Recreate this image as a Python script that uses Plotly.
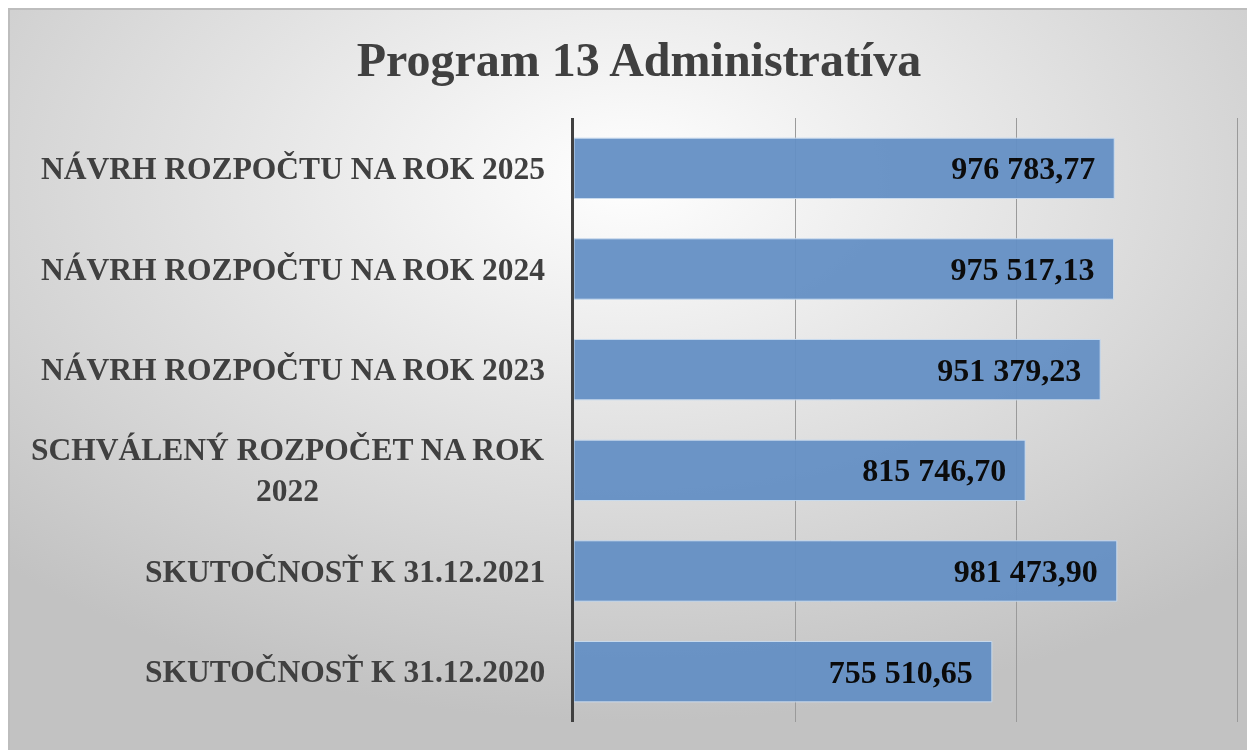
import base64
import plotly.graph_objects as go

categories = [
    "SKUTOČNOSŤ K 31.12.2020",
    "SKUTOČNOSŤ K 31.12.2021",
    "SCHVÁLENÝ ROZPOČET NA ROK<br>2022",
    "NÁVRH ROZPOČTU NA ROK 2023",
    "NÁVRH ROZPOČTU NA ROK 2024",
    "NÁVRH ROZPOČTU NA ROK 2025",
]
values = [755510.65, 981473.90, 815746.70, 951379.23, 975517.13, 976783.77]
title_text = "Program 13 Administratíva"

W, H = 1255, 750
L, T, B = 566, 110, 714
R = 1233
x_max = 1206000

svg = (
    "<svg xmlns='http://www.w3.org/2000/svg' width='1242' height='760' viewBox='0 0 1242 760' preserveAspectRatio='none'>"
    "<defs><radialGradient id='g' cx='50%' cy='22%' r='72%'>"
    "<stop offset='0' stop-color='#ffffff'/><stop offset='1' stop-color='#c2c2c2'/>"
    "</radialGradient></defs>"
    "<rect x='1' y='1' width='1240' height='758' fill='url(#g)' stroke='#bdbdbd' stroke-width='2'/></svg>"
)
src = "data:image/svg+xml;base64," + base64.b64encode(svg.encode()).decode()

pw, ph = R - L, B - T

fig = go.Figure()
fig.add_trace(go.Bar(
    y=categories, x=values, orientation="h",
    marker=dict(color="#6590c5", line=dict(color="#c9dbef", width=1)),
    opacity=0.95,
    texttemplate="<b>%{x:,.2f}</b>\u00a0\u00a0",
    textposition="inside", insidetextanchor="end",
    textfont=dict(family="Liberation Serif", size=32, color="black"),
    hoverinfo="skip",
))

for c in categories:
    fig.add_annotation(
        x=-27 / pw, xref="paper", y=c, yref="y",
        text=f"<b>{c}</b>", showarrow=False, xanchor="right", align="center",
        font=dict(family="Liberation Serif", size=31.5, color="#404040"),
    )

fig.add_layout_image(
    source=src, xref="paper", yref="paper",
    x=(0 - L) / pw, y=(B - 0) / ph, sizex=1242 / pw, sizey=760 / ph,
    xanchor="left", yanchor="top", sizing="stretch", layer="below",
)

fig.update_layout(
    width=W, height=H,
    margin=dict(l=L, r=W - R, t=T, b=H - B),
    paper_bgcolor="white", plot_bgcolor="rgba(0,0,0,0)",
    separators=", ",
    bargap=0.4,
    showlegend=False,
    title=dict(text=f"<b>{title_text}</b>", x=631 / W, xanchor="center",
               y=1 - 51 / H, yanchor="middle",
               font=dict(family="Liberation Serif", size=48, color="#404040")),
    xaxis=dict(range=[0, x_max], dtick=400000, tick0=0, showticklabels=False,
               showgrid=True, gridcolor="#9a9a9a", gridwidth=1, zeroline=False,
               showline=False, fixedrange=True),
    yaxis=dict(showticklabels=False, showline=True, linecolor="#404040",
               linewidth=2.5, showgrid=False, ticks="", fixedrange=True),
)

fig.write_html("out.html")
